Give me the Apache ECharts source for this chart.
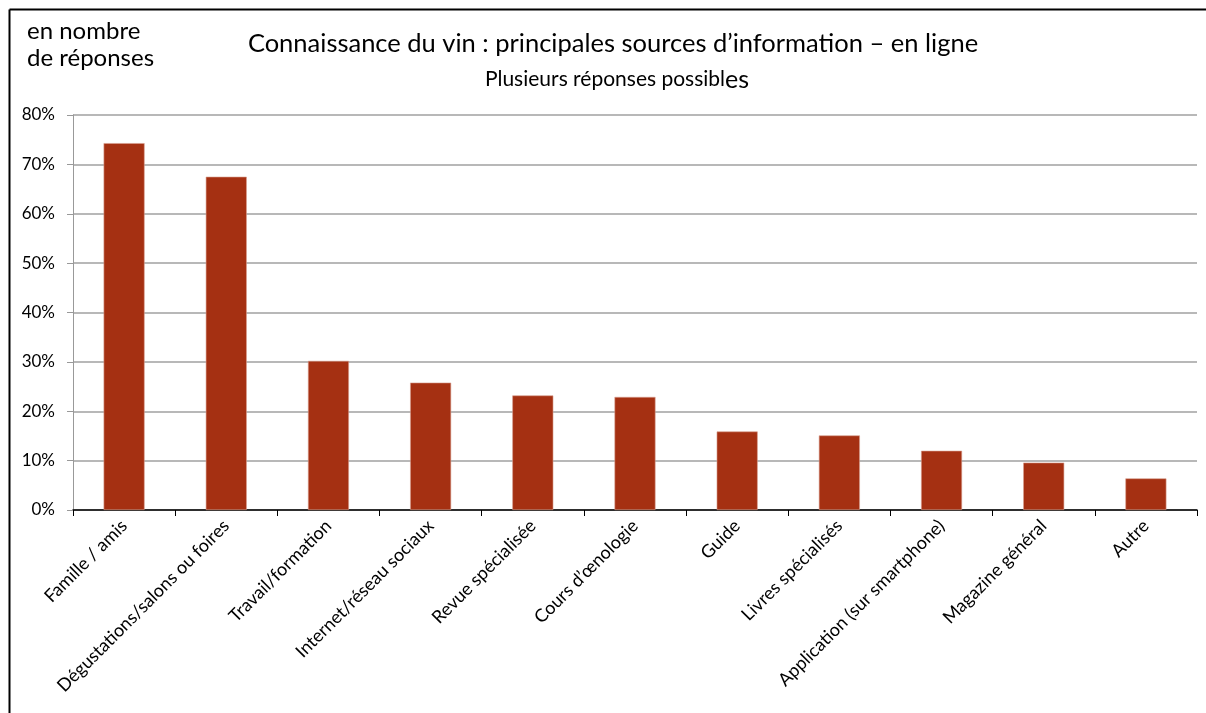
<!DOCTYPE html>
<html><head><meta charset="utf-8">
<script src="https://cdn.jsdelivr.net/npm/echarts@6/dist/echarts.min.js"></script>
<style>html,body{margin:0;padding:0;background:#fff}#c{width:1206px;height:713px}</style>
</head><body><div id="c"></div>
<script>
const categories = ['Famille / amis','Dégustations/salons ou foires','Travail/formation','Internet/réseau sociaux','Revue spécialisée','Cours d’œnologie','Guide','Livres spécialisés','Application (sur smartphone)','Magazine général','Autre'];
const values = [74.3, 67.5, 30.2, 25.8, 23.2, 22.9, 15.9, 15.1, 12.0, 9.6, 6.4];
const yTicks = [0,10,20,30,40,50,60,70,80];
const titleText = 'Connaissance du vin : principales sources d’information – en ligne';
const unitText = 'en nombre\nde réponses';
const FONT = 'Lato, "Liberation Sans", sans-serif';
const chart = echarts.init(document.getElementById('c'), null, {renderer:'canvas'});
chart.setOption({
  animation:false,
  backgroundColor:'#fff',
  title:[
    {text:titleText, left:608, top:26, textAlign:'center', textStyle:{fontFamily:FONT, fontSize:25.5, fontWeight:'normal', color:'#000'}},
    {text:'{a|Plusieurs réponses possibl}{b|es}', left:612, top:62, textAlign:'center',
     textStyle:{fontWeight:'normal', rich:{a:{fontFamily:FONT,fontSize:21,fontWeight:'normal',color:'#000'},b:{fontFamily:FONT,fontSize:25,fontWeight:'normal',color:'#000'}}}},
    {text:unitText, left:22, top:13, textStyle:{fontFamily:FONT, fontSize:24, fontWeight:'normal', color:'#000', lineHeight:27}}
  ],
  graphic:[
    {type:'line', shape:{x1:9.5,y1:9.5,x2:1206,y2:9.5}, style:{stroke:'#000',lineWidth:2}},
    {type:'line', shape:{x1:9.5,y1:9.5,x2:9.5,y2:713}, style:{stroke:'#000',lineWidth:2}}
  ],
  grid:{left:73, right:9, top:115, bottom:203, containLabel:false},
  xAxis:{type:'category', data:categories, boundaryGap:true,
    axisLine:{lineStyle:{color:'#000',width:1.5}},
    axisTick:{show:true, alignWithLabel:false, length:6, lineStyle:{color:'#000'}},
    axisLabel:{interval:0, rotate:45, fontFamily:FONT, fontSize:18, color:'#000', margin:13}},
  yAxis:{type:'value', min:0, max:80, interval:10,
    axisLine:{show:true, lineStyle:{color:'#999'}},
    axisTick:{show:true, length:6, lineStyle:{color:'#999'}},
    splitLine:{lineStyle:{color:'#a0a0a0', width:1.5}},
    axisLabel:{formatter: v => yTicks.includes(v) ? v + '%' : '', fontFamily:FONT, fontSize:17, color:'#000', margin:18}},
  series:[{type:'bar', data:values, barWidth:41,
    itemStyle:{color:'#A53012', borderColor:'#d9a090', borderWidth:0.6}}]
});
</script></body></html>
